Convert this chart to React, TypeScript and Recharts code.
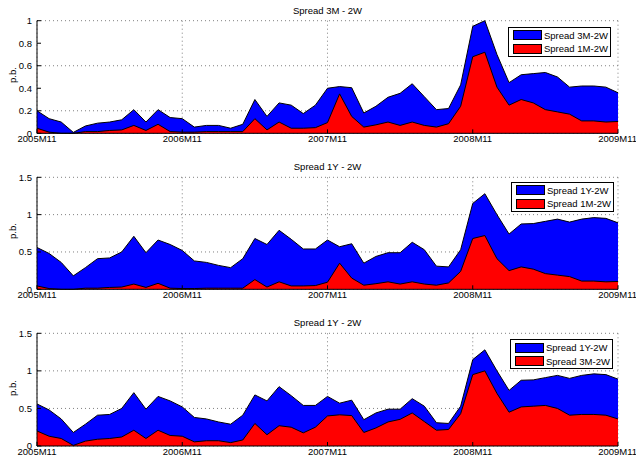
import React from 'react';
import { AreaChart, Area, XAxis, YAxis, CartesianGrid, Legend } from 'recharts';

// monthly observations, 2005M11 .. 2009M11
const tickIdx = [0, 12, 24, 36, 48];
const tickLabels = ['2005M11', '2006M11', '2007M11', '2008M11', '2009M11'];

const spread1M = [
  0.045, 0.01, 0.0, 0.0, 0.015, 0.015, 0.025, 0.03, 0.07, 0.025, 0.08, 0.015,
  0.01, 0.01, 0.015, 0.015, 0.015, 0.015, 0.13, 0.03, 0.1, 0.045, 0.045, 0.05,
  0.095, 0.35, 0.15, 0.055, 0.075, 0.1, 0.07, 0.1, 0.07, 0.055, 0.085, 0.24,
  0.68, 0.72, 0.41, 0.25, 0.3, 0.27, 0.21, 0.19, 0.17, 0.11, 0.11, 0.1, 0.105,
];

const spread3M = [
  0.2, 0.13, 0.1, 0.008, 0.065, 0.09, 0.1, 0.12, 0.21, 0.1, 0.21, 0.14,
  0.13, 0.055, 0.07, 0.07, 0.045, 0.08, 0.3, 0.15, 0.27, 0.25, 0.175, 0.25,
  0.4, 0.415, 0.405, 0.18, 0.24, 0.32, 0.355, 0.44, 0.325, 0.21, 0.22, 0.43,
  0.95, 1.0, 0.7, 0.45, 0.52, 0.53, 0.54, 0.5, 0.41, 0.42, 0.42, 0.41, 0.36,
];

const spread1Y = [
  0.56, 0.48, 0.36, 0.18, 0.29, 0.41, 0.42, 0.5, 0.71, 0.49, 0.66, 0.6,
  0.52, 0.38, 0.36, 0.32, 0.29, 0.41, 0.68, 0.6, 0.79, 0.67, 0.54, 0.54,
  0.66, 0.57, 0.61, 0.35, 0.44, 0.49, 0.49, 0.63, 0.53, 0.31, 0.3, 0.53,
  1.15, 1.28, 1.0, 0.74, 0.875, 0.88, 0.91, 0.94, 0.9, 0.94, 0.96, 0.95, 0.89,
];

const yTicksSmall = [0, 0.2, 0.4, 0.6, 0.8, 1];
const yTicksLarge = [0, 0.5, 1, 1.5];

const data = spread1M.map((v, i) => ({
  i,
  s1M: v,
  s3M: spread3M[i],
  s1Y: spread1Y[i],
}));

const FONT = '"Liberation Sans", Arial, Helvetica, sans-serif';
const BLUE = '#0000ff';
const RED = '#ff0000';

interface PanelProps {
  top: number;
  marginTop: number;
  plotH: number;
  title: string;
  blueKey: string;
  blueName: string;
  redKey: string;
  redName: string;
  yMax: number;
  yTicks: number[];
  legendLeft: number;
  legendTop: number;
}

const LegendBox = ({ blueName, redName }: { blueName: string; redName: string }) => {
  const row = (color: string, name: string, y: number) => (
    <div style={{ position: 'absolute', left: 4, top: y, height: 11, display: 'flex', alignItems: 'center' }}>
      <div style={{ width: 29, height: 10, background: color, border: '1px solid #000', boxSizing: 'border-box' }} />
      <span style={{ marginLeft: 2, lineHeight: '11px' }}>{name}</span>
    </div>
  );
  return (
    <div
      style={{
        position: 'relative',
        width: 103,
        height: 30,
        boxSizing: 'border-box',
        border: '1px solid #000',
        background: '#fff',
        fontFamily: FONT,
        fontSize: 9.5,
        color: '#000',
      }}
    >
      {row(BLUE, blueName, 2)}
      {row(RED, redName, 15.5)}
    </div>
  );
};

const Panel: React.FC<PanelProps> = (p) => {
  const xAxisH = 16;
  const height = p.marginTop + p.plotH + xAxisH;
  return (
    <div style={{ position: 'absolute', left: 0, top: p.top, width: 636, height }}>
      <div
        style={{
          position: 'absolute',
          left: 37,
          width: 581,
          top: p.marginTop - 16,
          textAlign: 'center',
          fontFamily: FONT,
          fontSize: 9.5,
          lineHeight: '11px',
        }}
      >
        {p.title}
      </div>
      <div
        style={{
          position: 'absolute',
          left: 12,
          top: p.marginTop + p.plotH / 2 - 2,
          transform: 'translate(-50%, -50%) rotate(-90deg)',
          fontFamily: FONT,
          fontSize: 9.5,
          whiteSpace: 'nowrap',
        }}
      >
        p.b.
      </div>
      <AreaChart
        width={636}
        height={height}
        data={data}
        margin={{ top: p.marginTop, right: 18, bottom: 0, left: 0 }}
        style={{ position: 'absolute', left: 0, top: 0 }}
      >
        <CartesianGrid stroke="#808080" strokeDasharray="1 3" />
        <XAxis
          type="number"
          dataKey="i"
          domain={[0, 48]}
          ticks={tickIdx}
          tickFormatter={(v: number) => tickLabels[tickIdx.indexOf(v)]}
          height={xAxisH}
          axisLine={{ stroke: '#000' }}
          tickLine={{ stroke: '#000' }}
          tickSize={-4}
          tickMargin={6}
          tick={{ fontSize: 9.5, fill: '#000', fontFamily: FONT }}
          allowDecimals
        />
        <YAxis
          width={37}
          domain={[0, p.yMax]}
          ticks={p.yTicks}
          axisLine={{ stroke: '#000' }}
          tickLine={{ stroke: '#000' }}
          tickSize={-4}
          tickMargin={9}
          tick={{ fontSize: 9.5, fill: '#000', fontFamily: FONT }}
        />
        <Area
          type="linear"
          dataKey={p.blueKey}
          name={p.blueName}
          stroke="#000"
          strokeWidth={1}
          fill={BLUE}
          fillOpacity={1}
          dot={false}
          activeDot={false}
          isAnimationActive={false}
        />
        <Area
          type="linear"
          dataKey={p.redKey}
          name={p.redName}
          stroke="#000"
          strokeWidth={1}
          fill={RED}
          fillOpacity={1}
          dot={false}
          activeDot={false}
          isAnimationActive={false}
        />
        <Legend
          layout="horizontal"
          align="center"
          verticalAlign="middle"
          wrapperStyle={{ left: p.legendLeft, top: p.legendTop, width: 103, height: 30 }}
          content={() => <LegendBox blueName={p.blueName} redName={p.redName} />}
        />
      </AreaChart>
    </div>
  );
};

export default function App() {
  return (
    <div style={{ position: 'fixed', left: 0, top: 0, width: 636, height: 458, background: '#fff' }}>
      <Panel
        top={0}
        marginTop={20.7}
        plotH={112.6}
        title="Spread 3M - 2W"
        blueKey="s3M"
        blueName="Spread 3M-2W"
        redKey="s1M"
        redName="Spread 1M-2W"
        yMax={1}
        yTicks={yTicksSmall}
        legendLeft={508}
        legendTop={26.7}
      />
      <Panel
        top={150}
        marginTop={27.3}
        plotH={112}
        title="Spread 1Y - 2W"
        blueKey="s1Y"
        blueName="Spread 1Y-2W"
        redKey="s1M"
        redName="Spread 1M-2W"
        yMax={1.5}
        yTicks={yTicksLarge}
        legendLeft={511}
        legendTop={31.7}
      />
      <Panel
        top={310}
        marginTop={23.3}
        plotH={112.7}
        title="Spread 1Y - 2W"
        blueKey="s1Y"
        blueName="Spread 1Y-2W"
        redKey="s3M"
        redName="Spread 3M-2W"
        yMax={1.5}
        yTicks={yTicksLarge}
        legendLeft={510}
        legendTop={29}
      />
    </div>
  );
}
